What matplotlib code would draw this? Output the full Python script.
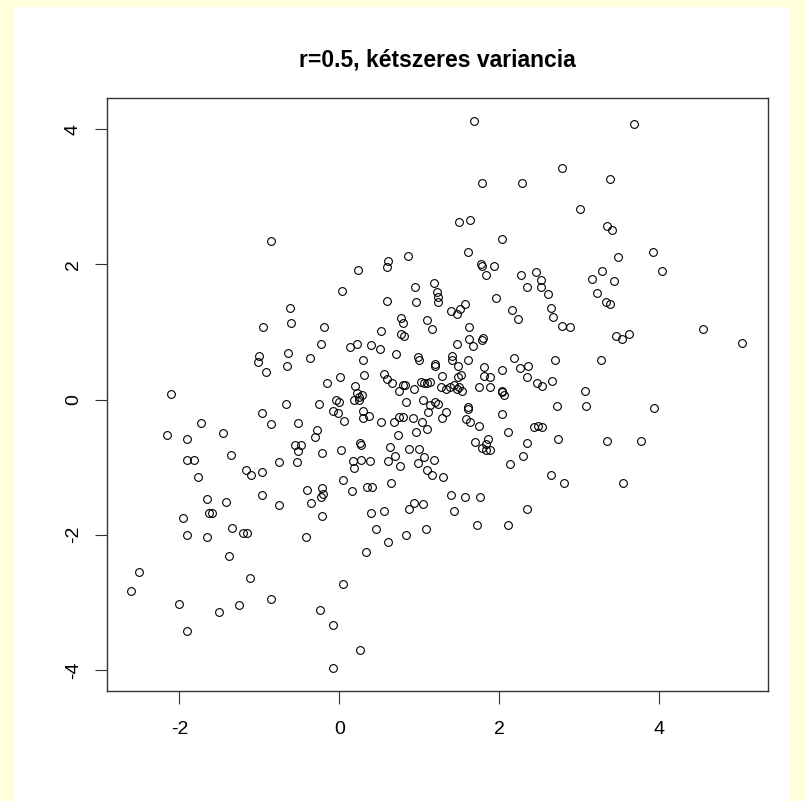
import matplotlib
matplotlib.use('Agg')
import matplotlib.pyplot as plt
from matplotlib.patches import Rectangle

plt.rcParams['font.family'] = ['Liberation Sans', 'DejaVu Sans']

# pontok (x, y)
pontok = [
    (-0.85, 2.35),
    (1.69, 4.12), (1.78, 3.20), (2.29, 3.20), (1.50, 2.63), (1.63, 2.66), (2.03, 2.38),
    (1.61, 2.18), (1.77, 2.00), (1.79, 1.98), (1.94, 1.98), (1.84, 1.85), (0.86, 2.12),
    (0.61, 2.05), (0.59, 1.96), (0.23, 1.92), (0.03, 1.61), (0.95, 1.66), (1.18, 1.72),
    (1.22, 1.59), (1.23, 1.52), (1.24, 1.44), (2.27, 1.85), (2.46, 1.89), (2.52, 1.77),
    (2.35, 1.66), (2.52, 1.66), (2.61, 1.56),
    (3.69, 4.08), (2.78, 3.42), (3.38, 3.26), (3.01, 2.82), (3.35, 2.57), (3.41, 2.51),
    (3.92, 2.18), (3.49, 2.11), (4.03, 1.90), (3.28, 1.90), (3.16, 1.78), (3.43, 1.75),
    (3.22, 1.57),
    (3.34, 1.45), (3.38, 1.41), (2.65, 1.36), (2.67, 1.22), (2.79, 1.09), (2.88, 1.08),
    (4.55, 1.05), (5.04, 0.84), (3.46, 0.94), (3.54, 0.89), (3.62, 0.97), (2.70, 0.59),
    (3.27, 0.58), (2.66, 0.28), (3.07, 0.12), (2.72, -0.09), (3.08, -0.09), (3.94, -0.13),
    (2.73, -0.58), (3.35, -0.62), (3.77, -0.62), (2.65, -1.12), (2.81, -1.24), (3.55, -1.24),
    (0.60, 1.46), (0.96, 1.45), (1.96, 1.50), (1.57, 1.42), (1.51, 1.34), (1.40, 1.31),
    (1.47, 1.26), (2.16, 1.32), (2.24, 1.19), (0.77, 1.21), (0.80, 1.14), (1.09, 1.18),
    (1.16, 1.04), (1.62, 1.08), (0.52, 1.01), (0.77, 0.97), (0.81, 0.94), (1.62, 0.89),
    (1.78, 0.88), (1.80, 0.91), (1.47, 0.82), (1.67, 0.79), (0.22, 0.82), (0.13, 0.77),
    (0.40, 0.81), (0.51, 0.75), (0.71, 0.67), (0.98, 0.63), (1.00, 0.58), (1.41, 0.65),
    (1.41, 0.58), (1.61, 0.58), (2.18, 0.61), (0.30, 0.58), (1.20, 0.53), (1.19, 0.50),
    (1.49, 0.50), (1.81, 0.48), (2.04, 0.44), (2.26, 0.47), (2.36, 0.49), (0.01, 0.33),
    (0.31, 0.36), (0.56, 0.38), (0.59, 0.31), (0.66, 0.25), (1.28, 0.35), (1.48, 0.34),
    (1.52, 0.37), (1.81, 0.35), (1.88, 0.34), (2.35, 0.34), (2.47, 0.25), (2.54, 0.20),
    (0.19, 0.20), (0.22, 0.09), (0.28, 0.07), (0.25, 0.04), (0.18, 0.00), (0.24, -0.01),
    (-0.04, 0.00), (0.00, -0.04), (-0.08, -0.17), (-0.02, -0.20), (0.06, -0.32), (0.29, -0.17),
    (0.29, -0.28), (0.37, -0.24), (0.52, -0.33), (0.75, 0.13), (0.79, 0.21), (0.82, 0.22),
    (0.93, 0.15), (1.02, 0.26), (1.06, 0.24), (1.10, 0.25), (1.13, 0.26), (1.27, 0.18),
    (1.33, 0.15), (1.39, 0.19), (1.43, 0.22), (1.47, 0.15), (1.50, 0.19), (1.54, 0.12),
    (1.75, 0.19), (1.88, 0.18), (2.03, 0.12), (2.04, 0.11), (2.06, 0.06), (0.83, -0.04),
    (1.05, 0.00), (1.13, -0.08), (1.20, -0.03), (1.23, -0.07), (1.11, -0.19), (1.33, -0.18),
    (1.29, -0.28), (0.92, -0.28), (0.75, -0.26), (0.80, -0.26), (0.68, -0.34), (1.03, -0.33),
    (1.09, -0.44), (0.96, -0.48), (0.73, -0.53), (1.61, -0.11), (1.61, -0.14), (1.59, -0.29),
    (1.63, -0.33), (1.75, -0.39), (2.03, -0.21), (2.11, -0.48), (2.43, -0.41), (2.49, -0.39),
    (2.54, -0.40), (0.26, -0.65), (0.27, -0.68), (0.02, -0.74), (0.63, -0.71), (0.87, -0.73),
    (0.99, -0.73), (1.70, -0.63), (1.86, -0.58), (1.83, -0.66), (1.79, -0.72), (1.83, -0.75),
    (1.88, -0.75), (2.35, -0.64), (2.30, -0.83), (2.13, -0.96), (0.70, -0.84), (0.17, -0.91),
    (0.27, -0.89), (0.38, -0.91), (0.18, -1.02), (0.61, -0.91), (0.76, -0.98), (0.98, -0.94),
    (1.06, -0.85), (1.18, -0.90), (1.09, -1.04), (1.16, -1.12), (1.30, -1.14), (0.05, -1.19),
    (0.65, -1.23), (0.35, -1.30), (0.41, -1.30), (0.16, -1.36),
    (-0.62, 1.36), (-0.61, 1.14), (-0.96, 1.08), (-0.19, 1.08), (-0.23, 0.82), (-0.64, 0.69),
    (-0.37, 0.62), (-1.01, 0.65), (-1.02, 0.56), (-0.65, 0.50), (-0.92, 0.40), (-0.15, 0.24),
    (-2.11, 0.08), (-0.67, -0.06), (-0.25, -0.06), (-0.97, -0.20), (-0.85, -0.36), (-0.52, -0.35),
    (-1.73, -0.35), (-2.16, -0.53), (-1.90, -0.58), (-1.45, -0.49), (-0.28, -0.45), (-0.30, -0.56),
    (-0.55, -0.68), (-0.48, -0.67), (-0.52, -0.76), (-0.22, -0.79), (-1.35, -0.82), (-1.91, -0.89),
    (-1.82, -0.89), (-1.77, -1.14), (-0.76, -0.92), (-0.53, -0.93), (-1.17, -1.04), (-1.11, -1.11),
    (-0.97, -1.07), (-0.40, -1.34), (-0.22, -1.31), (-0.20, -1.40), (-0.23, -1.44),
    (-0.97, -1.41), (-0.35, -1.53), (-0.22, -1.73), (-1.65, -1.47), (-1.42, -1.52), (-0.75, -1.56),
    (-1.96, -1.75), (-1.63, -1.68), (-1.59, -1.68), (-1.34, -1.90), (-1.21, -1.97), (-1.16, -1.97),
    (-1.91, -2.01), (-1.65, -2.04), (-0.42, -2.03), (-1.38, -2.32), (-2.50, -2.55), (-2.60, -2.84),
    (-1.12, -2.64), (-2.01, -3.02), (-1.25, -3.04), (-0.85, -2.96), (-1.50, -3.14), (-0.24, -3.11),
    (-1.91, -3.43),
    (1.40, -1.41), (1.57, -1.44), (1.76, -1.45), (0.93, -1.53), (0.87, -1.62), (1.04, -1.54),
    (0.40, -1.68), (0.56, -1.65), (1.43, -1.65), (2.35, -1.62), (0.46, -1.91), (1.08, -1.91),
    (0.83, -2.00), (1.72, -1.85), (2.11, -1.85), (0.61, -2.11), (0.33, -2.26), (0.04, -2.73),
    (-0.08, -3.34), (0.26, -3.71), (-0.08, -3.98),
]
x = [p[0] for p in pontok]
y = [p[1] for p in pontok]

x_ticks = [-2, 0, 2, 4]
y_ticks = [-4, -2, 0, 2, 4]
cim = 'r=0.5, kétszeres variancia'

W, H = 805, 801
fig = plt.figure(figsize=(W / 100, H / 100), dpi=100, facecolor='#ffffdc')
# fehér lap a sárga keretben
fig.patches.append(Rectangle((14 / W, 0), (790 - 14) / W, (H - 7) / H,
                             transform=fig.transFigure, facecolor='white',
                             edgecolor='none', zorder=-10))

ax = fig.add_axes([107 / W, 1 - 690.7 / H, 661 / W, 592.7 / H])
ax.plot(x, y, 'o', mfc='none', mec='black', ms=5.6, mew=0.8)
ax.set_xlim(-2.904, 5.359)
ax.set_ylim(-4.310, 4.463)
ax.set_xticks(x_ticks)
ax.set_yticks(y_ticks)
ax.set_xticklabels([str(v) for v in x_ticks])
ax.set_yticklabels([str(v) for v in y_ticks], rotation=90, va='center')
ax.tick_params(axis='both', length=9, width=0.8, color='#333333', labelsize=14)
ax.tick_params(axis='x', pad=13)
ax.tick_params(axis='y', pad=9)
for s in ax.spines.values():
    s.set_color('#333333')
    s.set_linewidth(1.0)

fig.text(437.5 / W, 1 - 60 / H, cim, ha='center', va='center',
         fontsize=16.5, fontweight='bold')

fig.savefig('out.png', dpi=100, facecolor=fig.get_facecolor())
